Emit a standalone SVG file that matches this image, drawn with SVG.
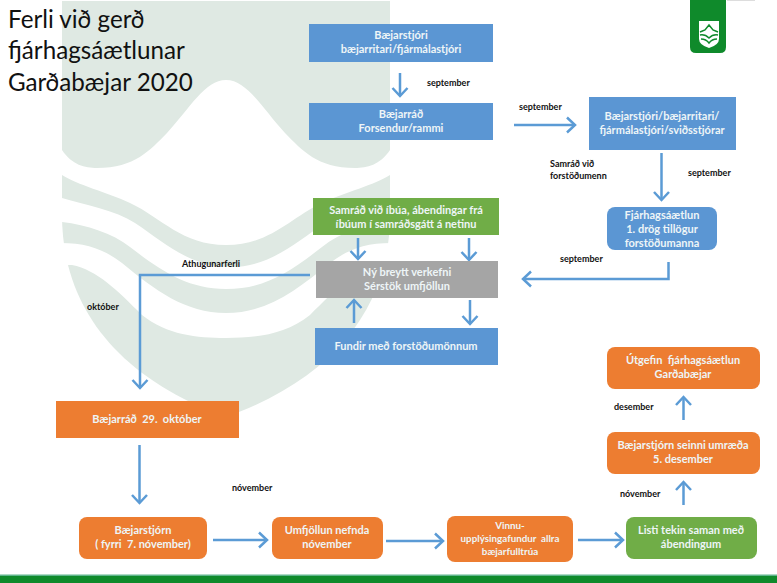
<svg xmlns="http://www.w3.org/2000/svg" width="777" height="583" viewBox="0 0 777 583">
<style>
text{font-family:Lato,"Open Sans","Liberation Sans",sans-serif}
.title{font-size:24.2px;fill:#111}
.box{font-size:11px;font-weight:700;fill:#eef5f7;text-anchor:middle;white-space:pre}
.small{font-size:9.8px}
.lab{font-size:9px;font-weight:700;fill:#111}
.blue{fill:#5b96d3}.green{fill:#70ad47}.gray{fill:#a5a5a5}.orange{fill:#ed7d31}
.con{fill:none;stroke:#5b9bd5;stroke-width:2.5;marker-end:url(#a)}
.sh{fill:#fff}
</style>
<defs><marker id="a" markerUnits="userSpaceOnUse" markerWidth="16" markerHeight="18" refX="13" refY="9" orient="auto"><path d="M5 1.500L13 9L5 16.500" fill="none" stroke="#5b9bd5" stroke-width="2.500"/></marker></defs>
<rect width="777" height="583" fill="#fff"/>
<g id="shield">
<path d="M62 1H390V215C390 300 342 375 226 417C110 375 62 300 62 215Z" fill="#dfe9e3"/>
<path class="sh" d="M62 150C72 165 85 168 97 168C135 168 150 150 167 133C190 108 205 80 226 80C247 80 262 108 285 133C302 150 317 168 355 168C367 168 380 165 390 150V175C375 185 345 192 322 203C290 218 270 245 226 245C182 245 162 218 130 203C107 192 77 185 62 175Z"/>
<path class="sh" d="M62 198C85 205 115 210 135 223C165 243 190 267 230 267C270 267 295 243 325 223C345 210 367 205 390 198V222C365 225 340 232 322 247C290 272 265 289 226 289C187 289 160 270 130 247C112 233 87 225 62 222Z"/>
<path class="sh" d="M60 243C88 243 105 250 122 263C155 290 185 313 226 313C267 313 297 290 330 263C347 250 364 243 392 243V265H380C355 270 335 290 310 315C285 335 255 338 226 338C197 338 167 335 142 315C117 290 97 270 72 265H60Z"/>
</g>
<rect x="0" y="575" width="777" height="8" fill="#0f8a2b"/>
<rect x="0" y="574.500" width="777" height="1.500" fill="#5fb58c"/>
<g id="logo">
<rect x="727" y="0" width="28" height="1" fill="#ddd"/>
<path d="M690 0H726V47Q726 53 720 53H696Q690 53 690 47Z" fill="#0f8a2b"/>
<path d="M699 21H719V39Q719 45 709 48Q699 45 699 39Z" fill="#fff"/>
<path d="M700 32L705 30L709 25L713 30L718 32M700 35Q705 34 709 38Q713 34 718 35M701 39Q706 39 709 43Q712 39 717 39" fill="none" stroke="#0f8a2b" stroke-width="1.500"/>
</g>
<text class="title" x="8" y="28">Ferli við gerð</text>
<text class="title" x="8" y="59">fjárhagsáætlunar</text>
<text class="title" x="8" y="91">Garðabæjar 2020</text>
<g id="connectors">
<path class="con" d="M400 73V96"/>
<path class="con" d="M514 125H575"/>
<path class="con" d="M661.500 153V200"/>
<path class="con" d="M668.500 262V279H523"/>
<path class="con" d="M358 238V259"/>
<path class="con" d="M469 238V260"/>
<path class="con" d="M354 323V300"/>
<path class="con" d="M470 300V324"/>
<path class="con" d="M310 275H140V388"/>
<path class="con" d="M139.500 445V503"/>
<path class="con" d="M213 540H267"/>
<path class="con" d="M386 541H443"/>
<path class="con" d="M578 540H623"/>
<path class="con" d="M683.500 505V482"/>
<path class="con" d="M683.500 420V397"/>
</g>
<g id="n1"><rect class="blue" x="309" y="24" width="184" height="38"/><text class="box" x="401" y="39">Bæjarstjóri</text><text class="box" x="401" y="53">bæjarritari/fjármálastjóri</text></g>
<g id="n2"><rect class="blue" x="309" y="103" width="184" height="37"/><text class="box" x="401" y="118">Bæjarráð</text><text class="box" x="401" y="132">Forsendur/rammi</text></g>
<g id="n3"><rect class="blue" x="589" y="97" width="147" height="53"/><text class="box" x="662" y="120">Bæjarstjóri/bæjarritari/</text><text class="box" x="662" y="134">fjármálastjóri/sviðsstjórar</text></g>
<g id="n4"><rect class="blue" x="607" y="207" width="110" height="43" rx="8"/><text class="box" x="662" y="219">Fjárhagsáætlun</text><text class="box" x="662" y="233">1. drög tillögur</text><text class="box" x="662" y="247">forstöðumanna</text></g>
<g id="n5"><rect class="green" x="313" y="198" width="186" height="37"/><text class="box" x="406" y="214">Samráð við íbúa, ábendingar frá</text><text class="box" x="406" y="228">íbúum í samráðsgátt á netinu</text></g>
<g id="n6"><rect class="gray" x="316" y="261" width="182" height="37"/><text class="box" x="407" y="276">Ný breytt verkefni</text><text class="box" x="407" y="290">Sérstök umfjöllun</text></g>
<g id="n7"><rect class="blue" x="315" y="328" width="183" height="37"/><text class="box" x="406" y="350">Fundir með forstöðumönnum</text></g>
<g id="n8"><rect class="orange" x="56" y="401" width="183" height="37"/><text class="box" x="147" y="423">Bæjarráð  29.  október</text></g>
<g id="n9"><rect class="orange" x="79" y="517" width="128" height="42" rx="8"/><text class="box" x="143" y="534">Bæjarstjórn</text><text class="box" x="143" y="548">( fyrri  7. nóvember)</text></g>
<g id="n10"><rect class="orange" x="272" y="517" width="111" height="42" rx="8"/><text class="box" x="327" y="534">Umfjöllun nefnda</text><text class="box" x="327" y="548">nóvember</text></g>
<g id="n11"><rect class="orange" x="447" y="516" width="126" height="46" rx="8"/><text class="box small" x="510" y="529">Vinnu-</text><text class="box small" x="510" y="542">upplýsingafundur  allra</text><text class="box small" x="510" y="555">bæjarfulltrúa</text></g>
<g id="n12"><rect class="green" x="626" y="517" width="131" height="42" rx="8"/><text class="box" x="691" y="534">Listi tekin saman með</text><text class="box" x="691" y="548">ábendingum</text></g>
<g id="n13"><rect class="orange" x="607" y="432" width="153" height="42" rx="8"/><text class="box" x="683" y="449">Bæjarstjórn seinni umræða</text><text class="box" x="683" y="463">5. desember</text></g>
<g id="n14"><rect class="orange" x="607" y="347" width="153" height="42" rx="8"/><text class="box" x="683" y="364">Útgefin  fjárhagsáætlun</text><text class="box" x="683" y="378">Garðabæjar</text></g>
<g id="labels">
<text class="lab" x="427" y="86">september</text>
<text class="lab" x="519" y="110">september</text>
<text class="lab" x="550" y="167">Samráð við</text>
<text class="lab" x="550" y="179">forstöðumenn</text>
<text class="lab" x="688" y="176">september</text>
<text class="lab" x="560" y="262">september</text>
<text class="lab" x="182" y="267">Athugunarferli</text>
<text class="lab" x="87" y="310">október</text>
<text class="lab" x="232" y="491">nóvember</text>
<text class="lab" x="614" y="410">desember</text>
<text class="lab" x="620" y="497">nóvember</text>
</g>
</svg>
